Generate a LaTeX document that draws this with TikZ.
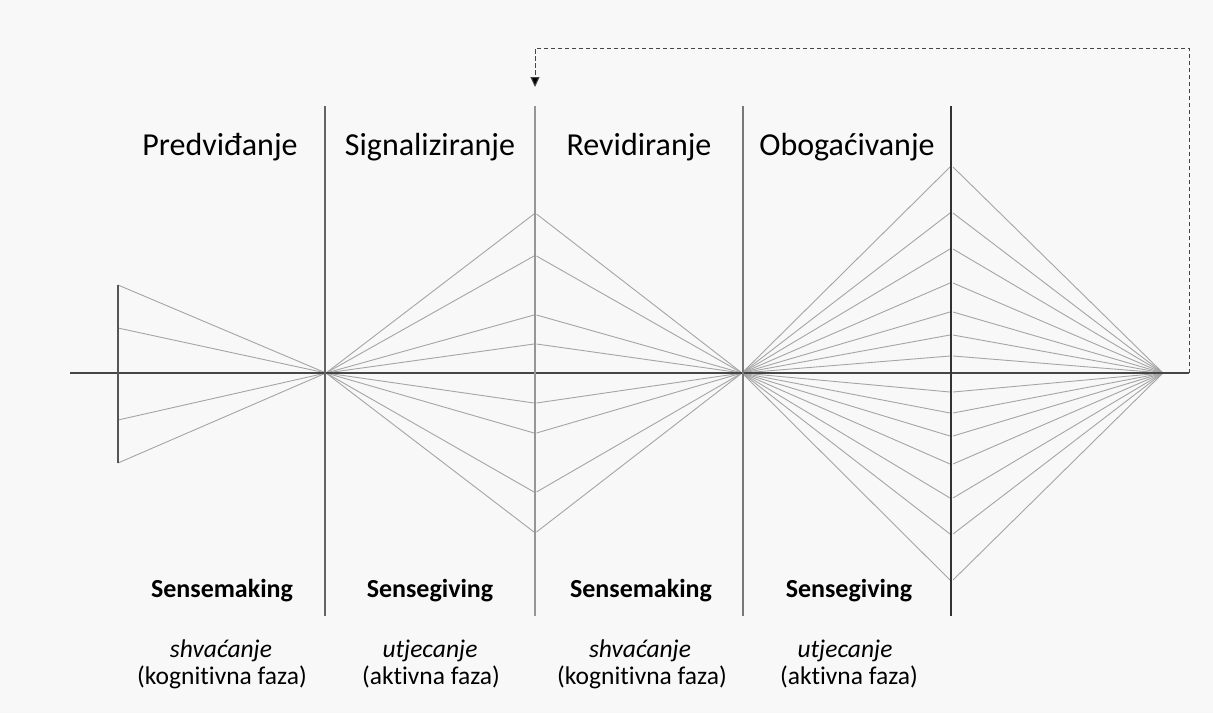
\documentclass[tikz,border=0pt]{standalone}
\usepackage{fontspec}
\setmainfont{Carlito}[Ligatures=NoCommon]
\usetikzlibrary{arrows.meta}
\definecolor{bg}{RGB}{248,248,248}
\definecolor{fan}{RGB}{165,165,165}
\definecolor{axis}{RGB}{70,70,70}
\tikzset{
  fanline/.style={draw=fan, line width=0.9pt},
  axisline/.style={draw=axis, line width=1.3pt},
  divider/.style={line width=1.3pt},
  title/.style={anchor=base, font=\fontsize{32}{38}\selectfont, inner sep=0pt},
  mode/.style={anchor=base, font=\fontsize{26}{31}\selectfont\bfseries, inner sep=0pt},
  phase/.style={anchor=base, font=\fontsize{25.5}{30}\selectfont, inner sep=0pt},
  loopback/.style={draw=axis, line width=1pt, dash pattern=on 4.5pt off 2.5pt, -{Triangle[length=10pt,width=9pt,fill=black]}}
}
\begin{document}
\begin{tikzpicture}[x=1pt,y=-1pt]
\fill[bg] (0,0) rectangle (1213,713);
\useasboundingbox (0,0) rectangle (1213,713);

% key coordinates
\coordinate (axL) at (70,373);
\coordinate (axR) at (1189,373);
\coordinate (c1) at (326,373);
\coordinate (c2) at (742,373);
\coordinate (c3) at (1163,373);

% fan 1 (left)
\foreach \o in {-88,-45,47,90} {
  \draw[fanline] (118,373+\o) -- (c1);
}
% fan 2
\foreach \o in {-159,-117,-58,-29,30,60,119,159} {
  \draw[fanline] (c1) -- (534,373+\o);
  \draw[fanline] (536.5,373+\o) -- (c2);
}
% fan 3
\foreach \o in {-206,-160,-124,-90,-61,-38,-17,19,40,63,91,125,161,207} {
  \draw[fanline] (c2) -- (950,373+\o);
  \draw[fanline] (953,373+\o) -- (c3);
}

% axis
\draw[axisline] (axL) -- (axR);

% verticals
\draw[divider, draw={rgb,255:red,85;green,85;blue,85}] (118,285) -- (118,463);
\draw[divider, draw={rgb,255:red,100;green,100;blue,100}] (325,106) -- (325,616);
\draw[divider, draw={rgb,255:red,150;green,150;blue,150}] (535,106) -- (535,616);
\draw[divider, draw={rgb,255:red,120;green,120;blue,120}] (743,106) -- (743,616);
\draw[divider, draw={rgb,255:red,50;green,50;blue,50}] (951,106) -- (951,616);

% feedback arrow
\coordinate (fbTop1) at (1189,48);
\coordinate (fbTop2) at (535,48);
\coordinate (fbEnd) at (535,87);
\draw[loopback] (axR) -- (fbTop1) -- (fbTop2) -- (fbEnd);

% titles
\node[title] (t1) at (220,155) {Predviđanje};
\node[title] (t2) at (430,155) {Signaliziranje};
\node[title] (t3) at (639,155) {Revidiranje};
\node[title] (t4) at (847,155) {Obogaćivanje};

% modes
\node[mode] (m1) at (222,597) {Sensemaking};
\node[mode] (m2) at (430,597) {Sensegiving};
\node[mode] (m3) at (641,597) {Sensemaking};
\node[mode] (m4) at (849,597) {Sensegiving};

% phases
\node[phase] (p1a) at (221,657) {\itshape shvaćanje};
\node[phase] (p1b) at (222,684) {(kognitivna faza)};
\node[phase] (p2a) at (430,657) {\itshape utjecanje};
\node[phase] (p2b) at (431,684) {(aktivna faza)};
\node[phase] (p3a) at (640,657) {\itshape shvaćanje};
\node[phase] (p3b) at (642,684) {(kognitivna faza)};
\node[phase] (p4a) at (845,657) {\itshape utjecanje};
\node[phase] (p4b) at (849,684) {(aktivna faza)};
\end{tikzpicture}
\end{document}
